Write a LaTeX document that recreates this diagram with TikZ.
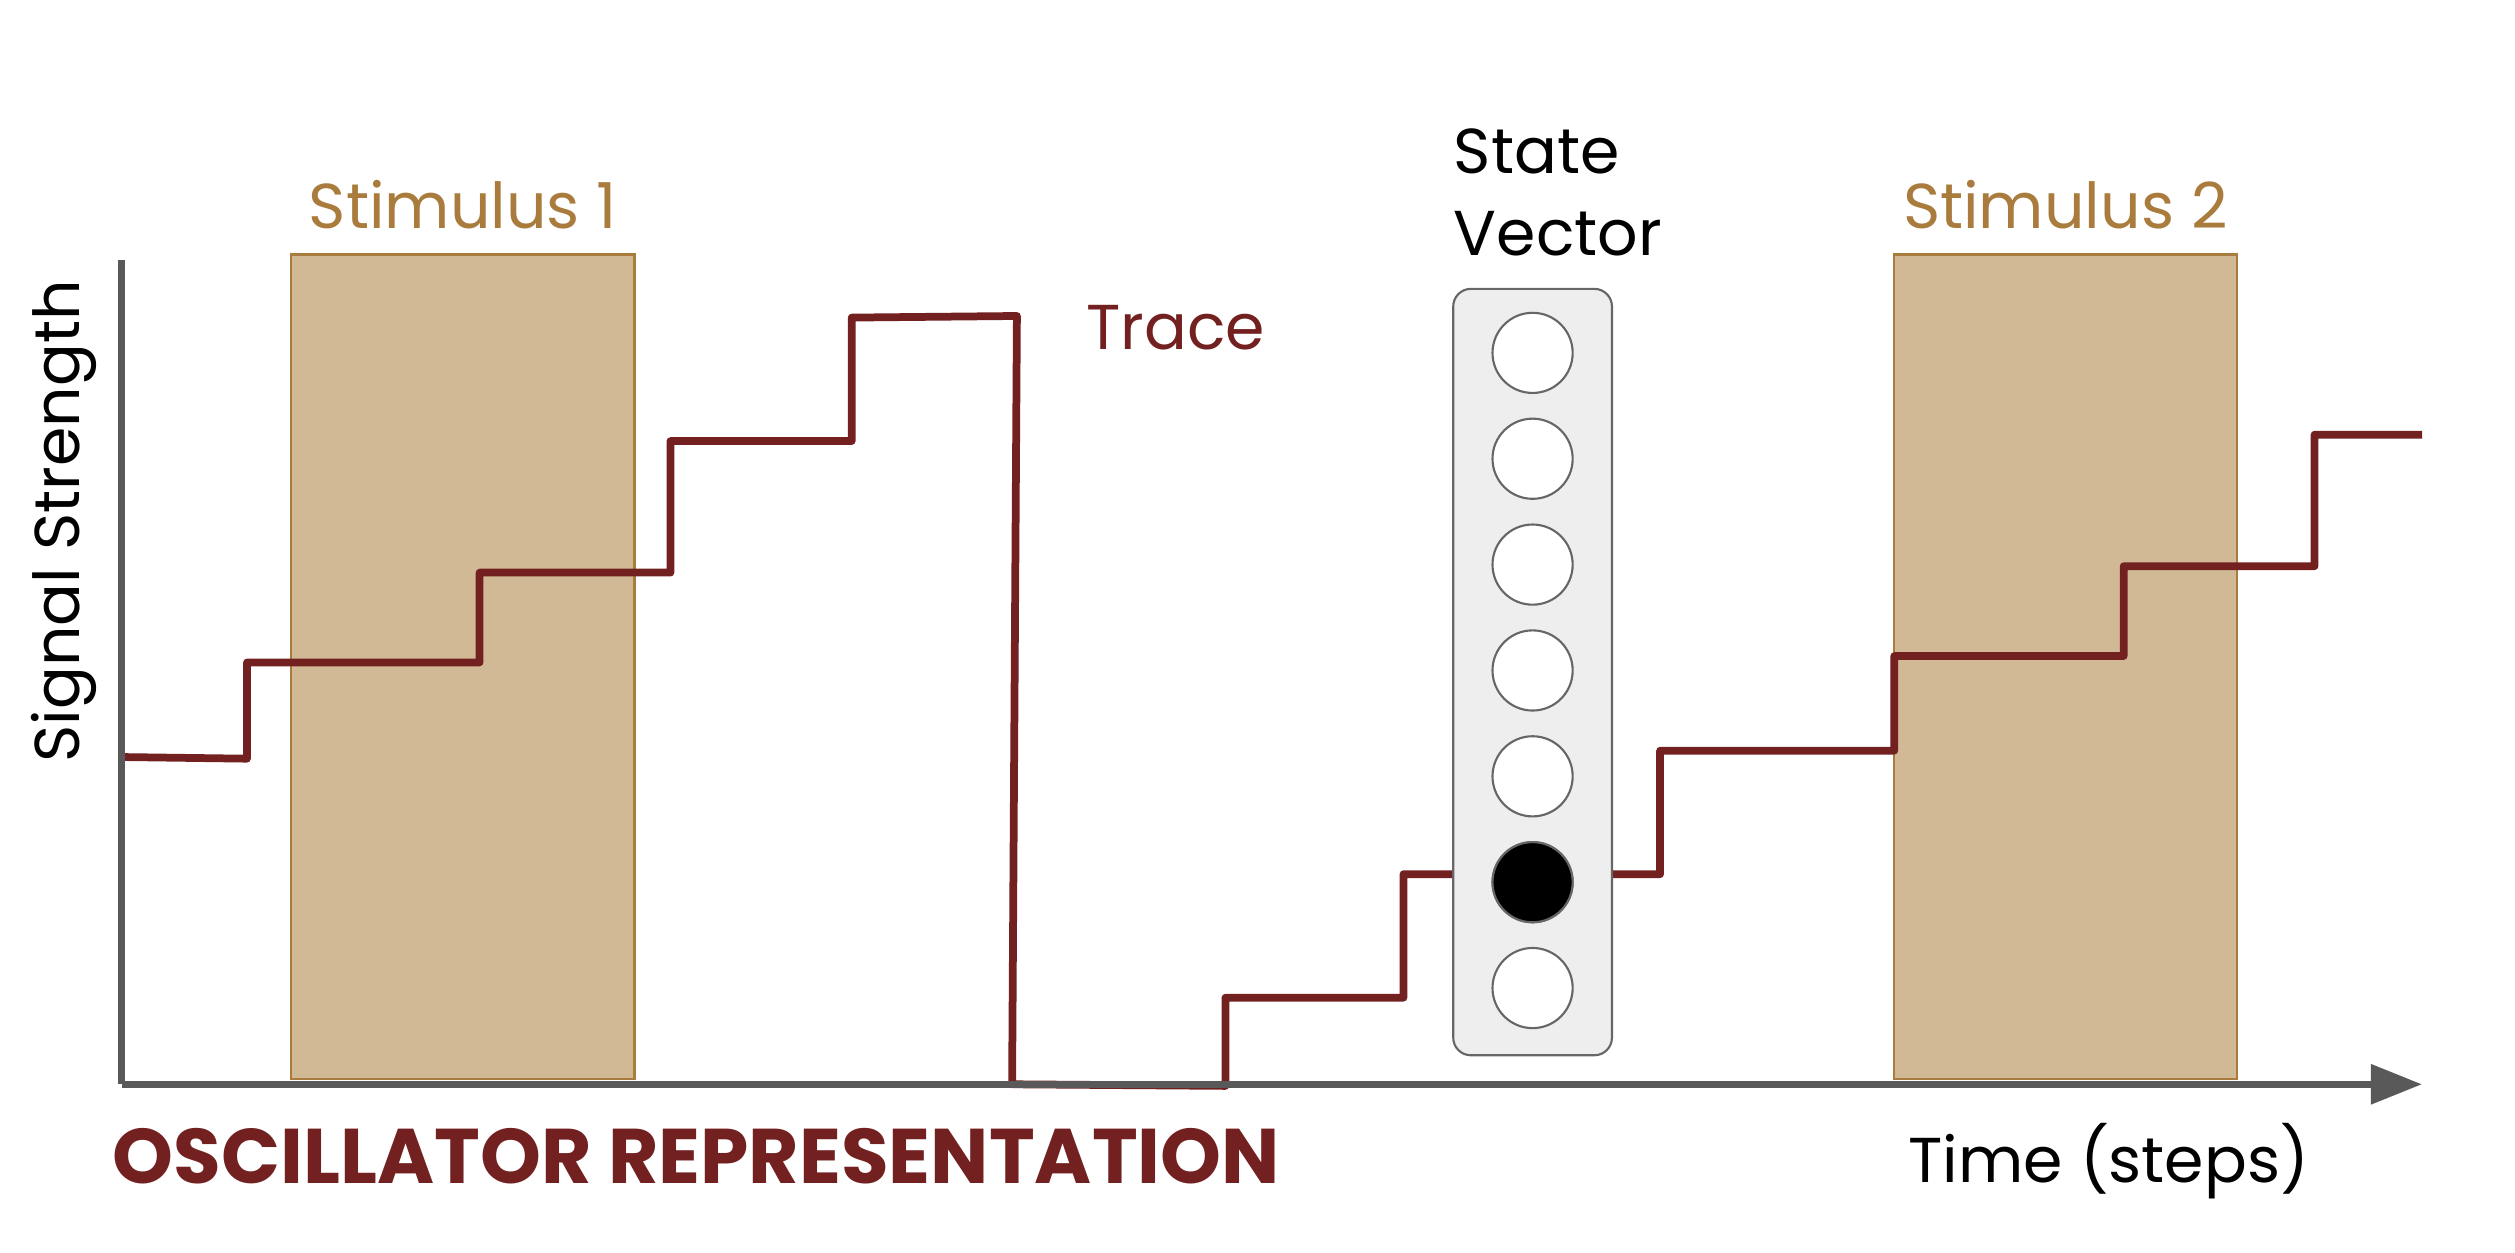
\documentclass[tikz,border=0pt]{standalone}
\usepackage{fontspec}
\setmainfont{Poppins}
\usepackage{xcolor}
\usepackage{tikz}
\usetikzlibrary{arrows.meta, positioning, calc}

\definecolor{tracered}{HTML}{722020}
\definecolor{stimfill}{HTML}{D2B996}
\definecolor{stimedge}{HTML}{A97C3E}
\definecolor{axisgray}{HTML}{595959}
\definecolor{cellgray}{HTML}{EEEEEE}
\definecolor{celledge}{HTML}{666666}

\begin{document}
\begin{tikzpicture}[
        x=0.016cm, y=-0.016cm,
        stimbox/.style={rectangle, draw=stimedge, fill=stimfill, line width=0.6pt, inner sep=0, minimum width=3.424cm, minimum height=8.224cm, anchor=north west},
        stimlabel/.style={text=stimedge, inner sep=0, font=\fontsize{18}{22}\selectfont},
        axis/.style={draw=axisgray, line width=2pt},
        trace/.style={draw=tracered, line width=2.2pt, line join=round},
        vecbox/.style={rectangle, rounded corners=5pt, draw=celledge, fill=cellgray, line width=0.6pt, minimum width=1.584cm, minimum height=7.648cm},
        cell/.style={circle, draw=celledge, fill=white, line width=0.6pt, minimum size=0.8cm, inner sep=0},
        plain/.style={inner sep=0, font=\fontsize{18}{23.2}\selectfont}
    ]
    \useasboundingbox (0,0) rectangle (1568,781);

    % Stimuli
    \node[stimbox] (stim1) at (181,158) {};
    \node[stimbox] (stim2) at (1180,158) {};
    \node[stimlabel, above=0.24cm of stim1] (stim1lbl) {Stimulus 1};
    \node[stimlabel, above=0.24cm of stim2] (stim2lbl) {Stimulus 2};

    % Trace
    \draw[trace] (78,472) -- (154,473) -- (154,413) -- (299,413) -- (299,357)
        -- (418,357) -- (418,275) -- (531,275) -- (531,198) -- (634,197)
        -- (631,676) -- (764,677) -- (764,622) -- (875,622) -- (875,545)
        -- (1035,545) -- (1035,468) -- (1181,468) -- (1181,409) -- (1324,409)
        -- (1324,353) -- (1443,353) -- (1443,271) -- (1510,271);
    \node[plain, text=tracered, anchor=base west] (tracelbl) at (677,218) {Trace};

    % State vector
    \node[vecbox] (vec) at (955.5,419) {};
    \foreach \i in {0,...,6} {
        \node[cell] (c\i) at (955.5,220+66*\i) {};
    }
    \node[cell, fill=black] at (c5) {};
    \node[plain, align=left, anchor=base west] (veclbl) at (906,159) {State\\Vector};

    % Axes
    \coordinate (origin) at (76,676);
    \coordinate (ytop) at (76,162);
    \coordinate (xend) at (1510,676);
    \draw[axis] (ytop) -- (origin);
    \draw[axis, -{Triangle[length=14.5pt, width=11pt]}] (origin) -- (xend);

    % Labels
    \node[plain, rotate=90] (ylbl) at (40,325) {Signal Strength};
    \node[plain, anchor=base east] (xlbl) at (1440,737) {Time (steps)};
    \node[inner sep=0, anchor=base west, text=tracered, font=\fontsize{22}{26}\selectfont\bfseries] (title) at (70,738) {OSCILLATOR REPRESENTATION};

\end{tikzpicture}
\end{document}
